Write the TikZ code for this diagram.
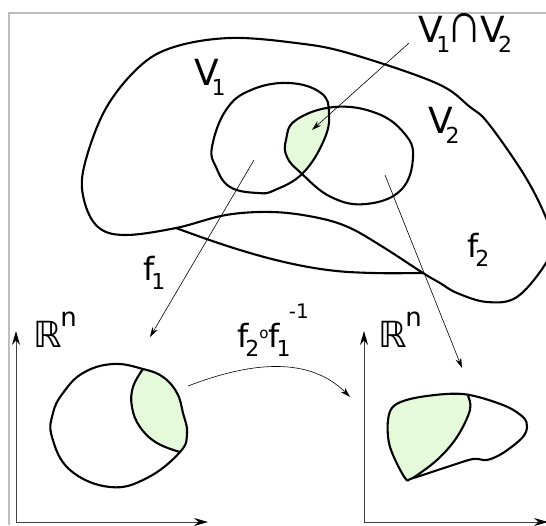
\documentclass[tikz,border=0pt]{standalone}
\usepackage{fontspec}
\setmainfont{DejaVu Sans}
\newfontfamily\libsans{Liberation Sans}
\usetikzlibrary{arrows.meta}
\definecolor{lgreen}{RGB}{229,250,219}
\definecolor{framegray}{RGB}{190,190,190}
\newcommand\lowsub[2][-0.15em]{\kern#1\raisebox{-0.3em}{\fontsize{22}{22}\selectfont #2}}
\tikzset{
  curve/.style={line width=2.1pt, line join=round},
  thinarrow/.style={line width=0.6pt, -{Stealth[length=10pt,width=6pt]}},
  axisarrow/.style={line width=1pt, draw=black!75, -{Stealth[length=14pt,width=8pt,color=black]}},
  lbl/.style={font=\fontsize{36}{40}\selectfont, inner sep=0pt, anchor=base west},
  flbl/.style={font=\fontsize{32}{36}\selectfont, inner sep=0pt, anchor=base west},
}
\def\Outer{plot[smooth cycle, tension=0.6] coordinates {(230,38) (296,43) (348,53) (436,83) (470,107) (488,123) (523,173) (544,213) (552,240) (546,263) (517,297) (487,302) (457,293) (440,283) (423,273) (383,247) (348,227) (314,217) (272,212) (226,215) (176,228) (125,235) (98,227) (84,200) (84,167) (105,110) (139,67) (174,47)}}
\def\Vone{plot[smooth cycle, tension=0.7] coordinates {(212,147) (226,110) (251,90) (289,83) (321,93) (329,113) (324,140) (303,173) (275,190) (258,193) (230,187) (216,167)}}
\def\Vtwo{plot[smooth cycle, tension=0.7] coordinates {(286,140) (296,120) (334,107) (376,113) (404,133) (413,157) (401,190) (366,204) (331,197) (301,173) (287,157)}}
\def\Lcirc{plot[smooth cycle, tension=0.7] coordinates {(113,364) (143,369) (163,377) (177,393) (183,413) (187,433) (180,452) (147,478) (110,487) (70,470) (52,437) (53,413) (63,393) (83,373)}}
\def\Rshape{plot[smooth cycle, tension=0.55] coordinates {(388,420) (395,405) (420,397) (463,394) (503,405) (523,417) (527,427) (522,438) (503,453) (487,460) (473,459) (447,467) (413,478) (405,478) (390,447)}}
\begin{document}
\begin{tikzpicture}[x=1pt,y=-1pt]
\useasboundingbox (0,0) rectangle (546,525);
\clip (0,0) rectangle (546,525);
\draw[framegray, line width=1.5pt] (9,525) -- (9,13) -- (546,13);

% top surface
\draw[curve] \Outer;
\draw[curve] (176,228) .. controls (230,248) and (290,268) .. (348,272) .. controls (385,274) and (405,273) .. (423,273);
\begin{scope}
  \clip \Vone;
  \fill[lgreen] \Vtwo;
\end{scope}
\draw[curve] \Vone;
\draw[curve] \Vtwo;

% bottom left chart
\begin{scope}
  \clip \Lcirc;
  \fill[lgreen] (143,355) -- plot[smooth, tension=0.7] coordinates {(143,369) (133,387) (132,407) (140,427) (157,443) (180,452)} -- (195,458) -- (230,470) -- (230,340) -- cycle;
\end{scope}
\draw[curve] \Lcirc;
\draw[curve] plot[smooth, tension=0.7] coordinates {(143,369) (133,387) (132,407) (140,427) (157,443) (180,452)};

% bottom right chart
\begin{scope}
  \clip \Rshape;
  \fill[lgreen] (380,385) -- (468,385) -- plot[smooth, tension=0.6] coordinates {(468,396) (470,410) (457,437) (437,460) (413,478)} -- (400,495) -- (380,495) -- cycle;
\end{scope}
\draw[curve] \Rshape;
\draw[curve] plot[smooth, tension=0.6] coordinates {(468,396) (470,410) (457,437) (437,460) (413,478)};

% axes
\coordinate (lo) at (16,522);
\coordinate (lx) at (208,522);
\coordinate (ly) at (16,331);
\coordinate (ro) at (364,522);
\coordinate (rx) at (548,522);
\coordinate (ry) at (364,331);
\draw[axisarrow] (lo) -- (ly);
\draw[axisarrow] (lo) -- (lx);
\draw[axisarrow] (ro) -- (ry);
\draw[axisarrow] (ro) -- (rx);

% arrows
\coordinate (capfrom) at (409,43);
\coordinate (captip) at (312,130);
\coordinate (fonefrom) at (254,160);
\coordinate (fonetip) at (150,337);
\coordinate (ftwofrom) at (385,175);
\coordinate (ftwotip) at (462,368);
\coordinate (trfrom) at (188,386);
\coordinate (trtip) at (350,397);
\draw[thinarrow] (capfrom) -- (captip);
\draw[thinarrow] (fonefrom) -- (fonetip);
\draw[thinarrow] (ftwofrom) -- (ftwotip);
\draw[thinarrow] (trfrom) .. controls (240,366) and (305,352) .. (trtip);

% labels
\node[lbl] (capl) at (418,42) {V\lowsub[-0.18em]{1}\kern-0.12em{\libsans\scalebox{1.4}[1.6]{∩}}\kern-0.06em V\lowsub[-0.18em]{2}};
\node[lbl] (vonel) at (194,85) {V\lowsub[-0.2em]{1}};
\node[lbl] (vtwol) at (428,133) {V\lowsub[-0.2em]{2}};
\node[flbl] (fonel) at (143,280) {f\lowsub[-0.1em]{1}};
\node[flbl] (ftwol) at (467,257) {f\lowsub[-0.1em]{2}};
\node[lbl] (rnl) at (33,347) {ℝ\kern-0.04em\raisebox{0.58em}{\fontsize{26}{26}\selectfont n}};
\node[lbl] (rnr) at (378,347) {ℝ\kern-0.04em\raisebox{0.58em}{\fontsize{26}{26}\selectfont n}};
\node[flbl] (trl) at (237,347) {f\lowsub[-0.1em]{2}\raisebox{0.28em}{\fontsize{15}{15}\selectfont o}f\lowsub[-0.1em]{1}\kern-0.05em\raisebox{0.9em}{\fontsize{20}{20}\selectfont -1}};
\end{tikzpicture}
\end{document}
